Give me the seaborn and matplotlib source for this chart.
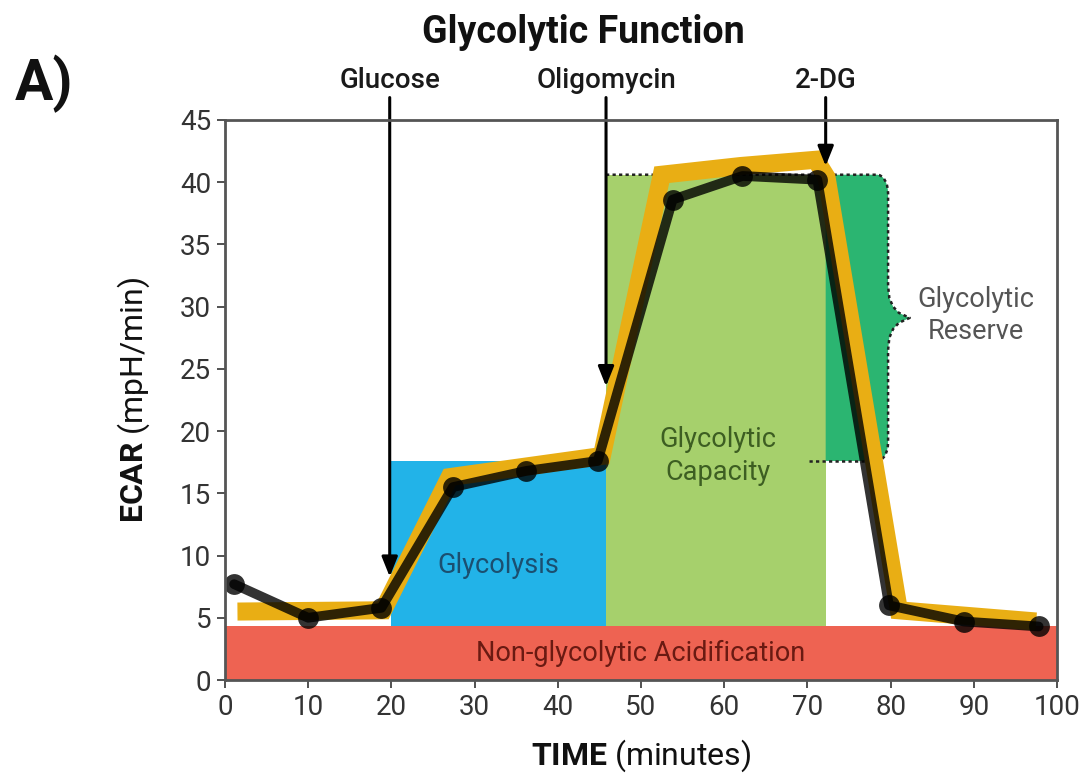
import matplotlib
matplotlib.use("Agg")
import matplotlib.pyplot as plt
import seaborn as sns
import numpy as np
import pandas as pd
from matplotlib.patches import Rectangle, Polygon

# ---- data ----
time_min = [1.1, 10.0, 18.8, 27.4, 36.2, 44.8, 53.8, 62.2, 71.2, 79.8, 88.8, 97.8]
ecar = [7.7, 5.0, 5.8, 15.5, 16.8, 17.6, 38.6, 40.5, 40.2, 6.0, 4.7, 4.3]

highlight_x = [1.5, 19.0, 27.0, 45.3, 52.5, 62.0, 71.0, 72.3, 81.0, 97.5]
highlight_y = [5.5, 5.6, 16.3, 18.0, 40.6, 41.3, 41.8, 40.4, 5.6, 4.7]

injection_names = ["Glucose", "Oligomycin", "2-DG"]
injection_times = [19.8, 45.8, 72.2]
injection_tips = [8.3, 23.6, 41.3]

nonglyco_level = 4.3
glycolysis_level = 17.6
capacity_level = 40.6
phase_starts = [20.0, 45.8, 72.2]
reserve_end = 79.7

x_ticks = list(range(0, 101, 10))
y_ticks = list(range(0, 46, 5))

# ---- style ----
sns.set_theme(style="white")
plt.rcParams['font.family'] = ['Roboto', 'DejaVu Sans']
plt.rcParams['mathtext.fontset'] = 'custom'
plt.rcParams['mathtext.rm'] = 'Roboto'
plt.rcParams['mathtext.bf'] = 'Roboto:bold'

fig = plt.figure(figsize=(10.9, 7.8), dpi=100)
ax = fig.add_axes([0.2064, 0.1282, 0.9697 - 0.2064, 0.8462 - 0.1282])

RED = "#EE6352"
BLUE = "#22B3E8"
LGREEN = "#A6D06C"
DGREEN = "#2BB571"
ORANGE = "#E9AE14"
DOT = dict(color="#222222", lw=1.8, ls=(0, (1.3, 1.3)), zorder=2)

# regions
ax.add_patch(Rectangle((0, 0), 100, nonglyco_level, color=RED, lw=0, zorder=1))
ax.add_patch(Rectangle((phase_starts[0], nonglyco_level), phase_starts[1] - phase_starts[0],
                       glycolysis_level - nonglyco_level, color=BLUE, lw=0, zorder=1))
ax.add_patch(Rectangle((phase_starts[1], nonglyco_level), phase_starts[2] - phase_starts[1],
                       capacity_level - nonglyco_level, color=LGREEN, lw=0, zorder=1))

# reserve brace shape
mid = (capacity_level + glycolysis_level) / 2
rx, ry = 1.3, 1.5
cusp = 2.6
t = np.linspace(0, np.pi / 2, 8)
top_corner = [(reserve_end - rx + rx * np.sin(a), capacity_level - ry + ry * np.cos(a)) for a in t]
bot_corner = [(reserve_end - rx + rx * np.cos(a), glycolysis_level + ry - ry * np.sin(a)) for a in t]
brace_right = [
    (reserve_end, mid + 2.6),
    (reserve_end + 0.15, mid + 1.6),
    (reserve_end + 0.6, mid + 0.9),
    (reserve_end + 1.3, mid + 0.4),
    (reserve_end + cusp, mid),
    (reserve_end + 1.3, mid - 0.4),
    (reserve_end + 0.6, mid - 0.9),
    (reserve_end + 0.15, mid - 1.6),
    (reserve_end, mid - 2.6),
]
outline = top_corner + brace_right + bot_corner
brace = [(phase_starts[2], capacity_level)] + outline + [(phase_starts[2], glycolysis_level)]
ax.add_patch(Polygon(brace, closed=True, facecolor=DGREEN, edgecolor="none", zorder=1))
ax.plot([phase_starts[1]] + [p[0] for p in outline], [capacity_level] + [p[1] for p in outline], **DOT)
ax.plot([phase_starts[2] - 2.0, reserve_end - rx], [glycolysis_level, glycolysis_level], **DOT)

# highlight band
ax.plot(highlight_x, highlight_y, color=ORANGE, lw=13, solid_capstyle="butt",
        solid_joinstyle="miter", zorder=3)

# data line
df = pd.DataFrame({"time": time_min, "ecar": ecar})
sns.lineplot(data=df, x="time", y="ecar", ax=ax, color="black", lw=7, alpha=0.8,
             marker="o", markersize=15, markeredgewidth=0, zorder=4, sort=False)

# region labels
ax.text(32.8, 9.2, "Glycolysis", ha="center", va="center", fontsize=19.5, color="#1B4F70", zorder=5)
ax.text(59.2, 18.0, "Glycolytic\nCapacity", ha="center", va="center", fontsize=19.5,
        color="#3D5E22", linespacing=1.25, zorder=5)
ax.text(90.2, 29.3, "Glycolytic\nReserve", ha="center", va="center", fontsize=19.5,
        color="#555555", linespacing=1.25, zorder=5)
ax.text(50.0, 2.1, "Non-glycolytic Acidification", ha="center", va="center", fontsize=19.5,
        color="#6A1A12", zorder=5)

# injection arrows
for name, tx, ty in zip(injection_names, injection_times, injection_tips):
    ax.annotate("", xy=(tx, ty), xytext=(tx, 46.8), xycoords="data", textcoords="data",
                arrowprops=dict(arrowstyle="-|>,head_length=1.0,head_width=0.4", color="black",
                                lw=2.2, shrinkA=0, shrinkB=0), zorder=6, annotation_clip=False)
    ax.text(tx, 48.2, name, ha="center", va="center", fontsize=20, fontweight="medium",
            color="#1a1a1a", clip_on=False)

ax.set_xlim(0, 100)
ax.set_ylim(0, 45)
ax.set_xticks(x_ticks)
ax.set_yticks(y_ticks)
ax.tick_params(axis="both", labelsize=20, colors="#333333", length=6, width=1.2, direction="out",
               left=True, bottom=True, pad=4)
for s in ax.spines.values():
    s.set_color("#555555")
    s.set_linewidth(2)
    s.set_zorder(7)

ax.set_xlabel(r"$\mathbf{TIME}$ (minutes)", fontsize=23, color="#111111", labelpad=12)
ax.set_ylabel(r"$\mathbf{ECAR}$ (mpH/min)", fontsize=23, color="#111111", labelpad=20)

fig.text(0.535, 0.958, "Glycolytic Function", ha="center", va="center", fontsize=27,
         fontweight="bold", color="#111111")
fig.text(0.040, 0.893, "A)", ha="center", va="center", fontsize=41, fontweight="bold", color="#111111")

fig.savefig("out.png", dpi=100)
